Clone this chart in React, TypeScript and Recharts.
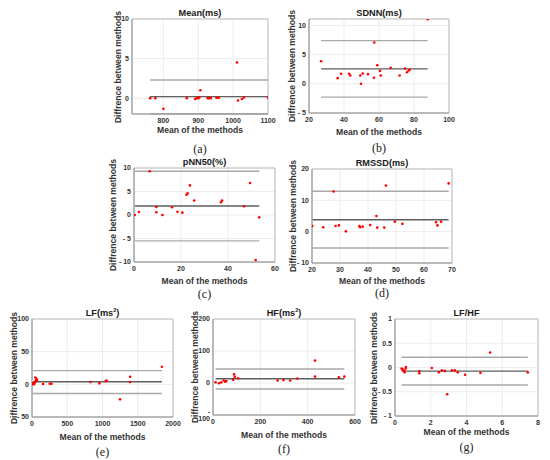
import React from 'react';
import { ScatterChart, Scatter, XAxis, YAxis, CartesianGrid, ReferenceLine, ReferenceArea } from 'recharts';

// (a) Mean(ms)
const meanX = [762, 777, 800, 867, 891, 896, 900, 903, 906, 927, 931, 936, 952, 955, 959, 1011, 1014, 1025, 1031, 1100];
const meanDiff = [0, 0, -1.35, 0, -0.1, 0, 0, 0.1, 1.0, 0, 0, 0, 0.05, 0.05, 0.05, 4.5, -0.3, -0.1, 0.1, 0.05];
const meanLimits = [2.3, 0.2, -1.97];

// (b) SDNN(ms)
const sdnnX = [26.9, 36.4, 38.3, 42.9, 43.6, 49.3, 49.7, 50.7, 53.7, 57.1, 57.3, 59, 60.6, 61, 66.7, 71.8, 74.9, 76, 77, 77.5, 87.8];
const sdnnDiff = [3.87, 0.97, 1.71, 1.71, 1.42, 1.42, 0, 1.77, 1.65, 1.03, 7.07, 3.19, 2.22, 1.42, 2.73, 1.42, 2.62, 1.99, 2.28, 2.39, 11.05];
const sdnnLimits = [7.4, 2.56, -2.28];

// (c) pNN50(%)
const pnnX = [0.3, 2.1, 6.7, 9.5, 9.5, 12.1, 16.2, 18.5, 20.6, 22.3, 22.8, 23.8, 25.6, 37.0, 37.5, 46.8, 49.4, 51.8, 53.3];
const pnnDiff = [0, 0.64, 9.3, 0.57, 1.7, 0, 1.64, 0.7, 0.5, 4.3, 4.6, 6.3, 3.1, 2.7, 3.1, 1.86, 6.8, -9.6, -0.5];
const pnnLimits = [9.3, 1.9, -5.5];

// (d) RMSSD(ms)
const rmssdX = [20.1, 24.0, 27.7, 28.4, 29.6, 32.1, 36.9, 37.2, 38.1, 40.8, 43.0, 43.3, 45.8, 46.4, 49.6, 52.3, 64.3, 64.8, 66.1, 68.8];
const rmssdDiff = [1.8, 1.4, 12.8, 1.8, 2.0, 0.1, 1.8, 1.4, 1.6, 2.1, 5.0, 1.3, 1.3, 14.7, 3.2, 2.5, 3.0, 2.0, 3.2, 15.4];
const rmssdLimits = [12.9, 3.8, -5.2];

// (e) LF(ms2)
const lfX = [12, 18, 22, 28, 35, 40, 48, 52, 58, 65, 72, 157, 252, 276, 831, 955, 1045, 1059, 1249, 1392, 1392, 1843];
const lfDiff = [0.5, 1.5, 0, 2.5, 1.0, 3.5, 10.5, 4.5, 6.5, 8, 6, 0.5, 1, 1, 3.6, 1.5, 5.1, 5.6, -23, 11.7, 3.6, 27];
const lfLimits = [21, 4, -14];

// (f) HF(ms2)
const hfX = [11, 25, 35, 45, 51, 56, 85, 89, 92, 106, 273, 298, 326, 356, 431, 431, 532, 555];
const hfDiff = [2, -1, 2, 8, 4, 6, 10, 27, 19, 15, 8, 9, 8, 14, 70, 20, 18, 20];
const hfLimits = [43.7, 13.5, -18.8];

// (g) LF/HF
const ratioX = [0.37, 0.43, 0.46, 0.52, 0.54, 0.6, 0.61, 1.36, 1.36, 2.06, 2.45, 2.62, 2.79, 2.92, 3.18, 3.35, 3.51, 3.92, 4.78, 5.32, 7.43];
const ratioDiff = [-0.02, -0.04, -0.055, -0.07, -0.1, -0.02, 0.01, -0.076, -0.12, -0.01, -0.1, -0.06, -0.07, -0.55, -0.06, -0.06, -0.1, -0.15, -0.11, 0.31, -0.1];
const ratioLimits = [0.21, -0.075, -0.36];

const YW = 30;
const MT = 8;
const MR = 14;
const XH = 16;

const tickStyle = { fontSize: 7, fill: '#333', fontWeight: 'bold' as const, fontFamily: 'Liberation Sans, Arial, sans-serif' };
const fmt = (v: number) => (v < 0 ? `- ${Math.abs(v)}` : `${v}`);

const Dot = (props: any) => <circle cx={props.cx} cy={props.cy} r={1.3} fill="#ff0000" />;

type PanelProps = {
  left: number; top: number; w: number; h: number;
  xDomain: [number, number]; yDomain: [number, number];
  xTicks: number[]; yTicks: number[];
  xs: number[]; ys: number[]; limits: number[];
  title: React.ReactNode; caption: string;
  ylabelGap: number; xlabelGap: number; captionY: number;
};

const Panel = (p: PanelProps) => {
  const pts = p.xs.map((x, i) => ({ x, y: p.ys[i] }));
  const xmin = Math.min(...p.xs);
  const xmax = Math.max(...p.xs);
  const cx = p.left + p.w / 2;
  return (
    <>
      <div style={{ position: 'absolute', left: p.left - p.ylabelGap - 70, width: 140, top: p.top + p.h / 2 - 5, textAlign: 'center', fontSize: 8.6, fontWeight: 'bold', color: '#333', lineHeight: '10px', transform: 'rotate(-90deg)', whiteSpace: 'nowrap' }}>
        Diffrence between methods
      </div>
      <div style={{ position: 'absolute', left: p.left - YW, top: p.top - MT }}>
        <ScatterChart width={YW + p.w + MR} height={MT + p.h + XH} margin={{ top: MT, right: MR, bottom: 0, left: 0 }}>
          <CartesianGrid stroke="#ededed" />
          <XAxis type="number" dataKey="x" domain={p.xDomain} ticks={p.xTicks} interval={0} allowDataOverflow
            height={XH} tick={tickStyle} tickLine={false} tickSize={0} tickMargin={4} axisLine={{ stroke: '#9a9a9a' }} tickFormatter={fmt} />
          <YAxis type="number" dataKey="y" domain={p.yDomain} ticks={p.yTicks} interval={0} allowDataOverflow
            width={YW} tick={tickStyle} tickLine={false} tickSize={0} tickMargin={3} axisLine={{ stroke: '#9a9a9a' }} tickFormatter={fmt} />
          <ReferenceArea x1={p.xDomain[0]} x2={p.xDomain[1]} y1={p.yDomain[0]} y2={p.yDomain[1]}
            fill="none" fillOpacity={0} stroke="#b0b0b0" strokeWidth={0.8} />
          <ReferenceLine segment={[{ x: xmin, y: p.limits[0] }, { x: xmax, y: p.limits[0] }]} stroke="#a9a9a9" strokeWidth={1.4} />
          <ReferenceLine segment={[{ x: xmin, y: p.limits[1] }, { x: xmax, y: p.limits[1] }]} stroke="#5e5e5e" strokeWidth={1.4} />
          <ReferenceLine segment={[{ x: xmin, y: p.limits[2] }, { x: xmax, y: p.limits[2] }]} stroke="#a9a9a9" strokeWidth={1.4} />
          <Scatter data={pts} shape={Dot} isAnimationActive={false} />
        </ScatterChart>
      </div>
      <div style={{ position: 'absolute', left: cx - 60, width: 120, top: p.top - 11, textAlign: 'center', fontSize: 9.2, fontWeight: 'bold', color: '#1a1a1a', lineHeight: '10px' }}>
        {p.title}
      </div>
      <div style={{ position: 'absolute', left: cx - 60, width: 120, top: p.top + p.h + p.xlabelGap - 5, textAlign: 'center', fontSize: 8.6, fontWeight: 'bold', color: '#333', lineHeight: '10px' }}>
        Mean of the methods
      </div>
      <div style={{ position: 'absolute', left: cx - 30, width: 60, top: p.captionY - 7, textAlign: 'center', fontSize: 12, fontFamily: 'Liberation Serif, serif', color: '#222', lineHeight: '14px' }}>
        {p.caption}
      </div>
    </>
  );
};

export default function App() {
  return (
    <div style={{ position: 'absolute', left: 0, top: 0, width: 550, height: 460, background: '#fff', overflow: 'hidden', fontFamily: 'Liberation Sans, Arial, sans-serif' }}>
      <Panel left={132} top={19} w={136} h={95} xDomain={[710, 1100]} yDomain={[-2, 10]}
        xTicks={[800, 900, 1000, 1100]} yTicks={[0, 5, 10]} xs={meanX} ys={meanDiff} limits={meanLimits}
        title="Mean(ms)" caption="(a)" ylabelGap={14} xlabelGap={16} captionY={149} />
      <Panel left={309} top={19} w={140} h={94} xDomain={[20, 100]} yDomain={[-5, 11.1]}
        xTicks={[20, 40, 60, 80, 100]} yTicks={[-5, 0, 5, 10]} xs={sdnnX} ys={sdnnDiff} limits={sdnnLimits}
        title="SDNN(ms)" caption="(b)" ylabelGap={17} xlabelGap={19} captionY={148} />
      <Panel left={134} top={168} w={141} h={94} xDomain={[0, 60]} yDomain={[-10, 10]}
        xTicks={[0, 20, 40, 60]} yTicks={[-10, -5, 0, 5, 10]} xs={pnnX} ys={pnnDiff} limits={pnnLimits}
        title="pNN50(%)" caption="(c)" ylabelGap={21} xlabelGap={19} captionY={294} />
      <Panel left={312} top={169} w={140} h={94} xDomain={[20, 70]} yDomain={[-10, 20]}
        xTicks={[20, 30, 40, 50, 60, 70]} yTicks={[-10, 0, 10, 20]} xs={rmssdX} ys={rmssdDiff} limits={rmssdLimits}
        title="RMSSD(ms)" caption="(d)" ylabelGap={19} xlabelGap={18} captionY={293} />
      <Panel left={32} top={319} w={141} h={98} xDomain={[0, 2000]} yDomain={[-50, 100]}
        xTicks={[0, 500, 1000, 1500, 2000]} yTicks={[-50, 0, 50, 100]} xs={lfX} ys={lfDiff} limits={lfLimits}
        title={<span>LF(ms<sup style={{ fontSize: 5.5, lineHeight: 0 }}>2</sup>)</span>} caption="(e)" ylabelGap={18} xlabelGap={20} captionY={452} />
      <Panel left={213} top={319} w={142} h={96} xDomain={[0, 600]} yDomain={[-100, 200]}
        xTicks={[0, 200, 400, 600]} yTicks={[-100, 0, 100, 200]} xs={hfX} ys={hfDiff} limits={hfLimits}
        title={<span>HF(ms<sup style={{ fontSize: 5.5, lineHeight: 0 }}>2</sup>)</span>} caption="(f)" ylabelGap={18} xlabelGap={20} captionY={449} />
      <Panel left={395} top={319} w={143} h={97} xDomain={[0, 8]} yDomain={[-1, 1]}
        xTicks={[0, 2, 4, 6, 8]} yTicks={[-1, -0.5, 0, 0.5, 1]} xs={ratioX} ys={ratioDiff} limits={ratioLimits}
        title="LF/HF" caption="(g)" ylabelGap={21} xlabelGap={16} captionY={447} />
    </div>
  );
}
